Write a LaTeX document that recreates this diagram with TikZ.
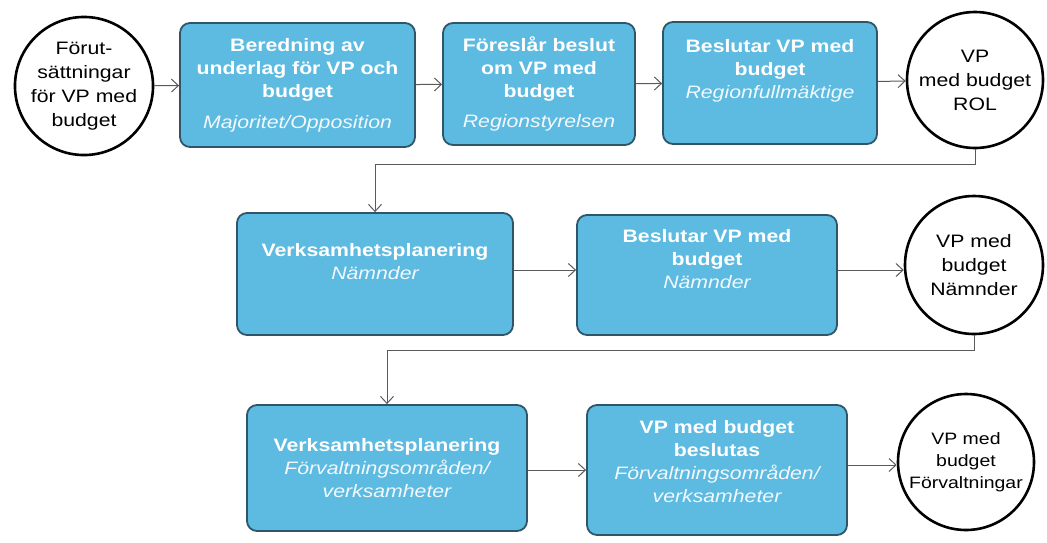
\documentclass[tikz,border=0pt]{standalone}
\usepackage{fontspec}
\setmainfont{Liberation Sans}[FakeStretch=1.18]
\usetikzlibrary{arrows.meta}
\definecolor{boxfill}{HTML}{5DBAE1}
\definecolor{boxedge}{HTML}{2E5668}
\definecolor{linegray}{HTML}{5A5A5A}
\begin{document}
\begin{tikzpicture}[x=1pt,y=-1pt,
  stepbox/.style={draw=boxedge, line width=1.8pt, fill=boxfill, rounded corners=10pt,
    text=white, align=center, inner sep=2pt,
    font=\fontsize{18}{23}\selectfont\bfseries},
  endcircle/.style={draw=black, line width=2.6pt, fill=white, circle, inner sep=0pt,
    align=center, font=\fontsize{18}{24}\selectfont},
  arr/.style={draw=linegray, line width=1pt, -{Straight Barb[length=7pt,width=13pt]}}]
\useasboundingbox (0,0) rectangle (1047,542);
\newcommand{\subt}[1]{{\mdseries\itshape\color{white!92!boxfill} #1}}

% row 1
\node[endcircle, minimum size=134] (c1) at (84,86) {Förut-\\sättningar\\för VP med\\budget};
\node[stepbox, minimum width=235, minimum height=124] (b1) at (297.5,85)
  {Beredning av\\underlag för VP och\\budget\\[8pt]\subt{Majoritet/Opposition}};
\node[stepbox, minimum width=192, minimum height=122] (b2) at (539,84)
  {Föreslår beslut\\om VP med\\budget\\[7pt]\subt{Regionstyrelsen}};
\node[stepbox, minimum width=214, minimum height=122] (b3) at (770,83)
  {Beslutar VP med\\budget\\\subt{Regionfullmäktige}\\[6pt]};
\node[endcircle, minimum size=136] (c2) at (975,80) {VP\\med budget\\ROL};

% row 2
\node[stepbox, minimum width=276, minimum height=122] (b4) at (375,274)
  {Verksamhetsplanering\\\subt{Nämnder}\\[3pt]};
\node[stepbox, minimum width=260, minimum height=120] (b5) at (707,275)
  {Beslutar VP med\\budget\\\subt{Nämnder}\\[10pt]};
\node[endcircle, minimum size=138] (c3) at (974,265) {VP med\\budget\\Nämnder};

% row 3
\node[stepbox, minimum width=280, minimum height=126] (b6) at (387,468)
  {Verksamhetsplanering\\\subt{Förvaltningsområden/}\\\subt{verksamheter}};
\node[stepbox, minimum width=260, minimum height=130] (b7) at (717,470)
  {VP med budget\\beslutas\\\subt{Förvaltningsområden/}\\\subt{verksamheter}\\[-5pt]};
\node[endcircle, minimum size=136, font=\fontsize{16.5}{22}\selectfont] (c4) at (966,462) {VP med\\budget\\Förvaltningar};

% connectors
\draw[arr] (c1) -- (b1);
\draw[arr] (b1) -- (b2);
\draw[arr] (b2) -- (b3);
\draw[arr] (b3) -- (c2);
\draw[arr] (c2.south) -- ++(0,15) -| (b4.north);
\draw[arr] (b4.east |- 0,270) -- (b5.west |- 0,270);
\draw[arr] (b5.east |- 0,270) -- (c3.west |- 0,270);
\draw[arr] (c3.south) -- ++(0,15) -| (b6.north);
\draw[arr] (b6.east |- 0,470) -- (b7.west |- 0,470);
\draw[arr] (b7.east |- 0,465) -- (c4.west |- 0,465);
\end{tikzpicture}
\end{document}
